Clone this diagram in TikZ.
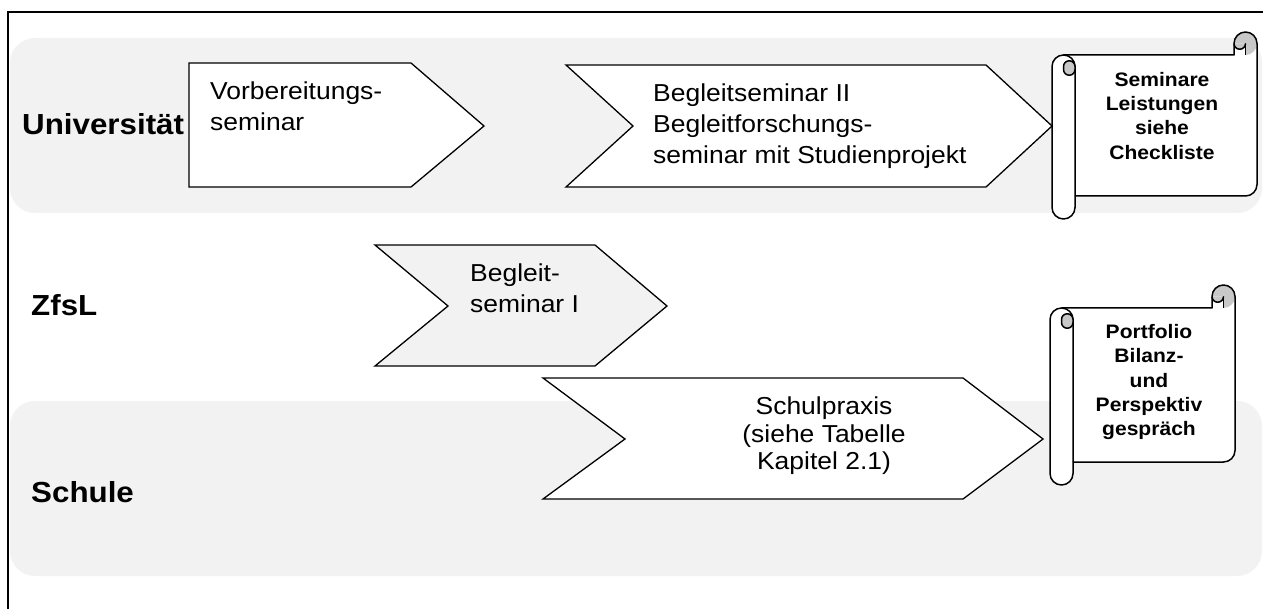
\documentclass[tikz,border=0pt]{standalone}
\usepackage{fontspec}
\newfontfamily\arial[FakeStretch=1.08]{Liberation Sans}
\definecolor{bandgray}{RGB}{242,242,242}
\definecolor{curlgray}{RGB}{200,200,200}
\tikzset{
  laneband/.style={fill=bandgray, draw=none, rounded corners=25pt},
  chevron/.style={draw=black, line width=1.3pt, line join=miter},
  scrl/.style={draw=black, line width=1.5pt, line join=round},
  regtext/.style={font=\arial\fontsize{24.5}{31}\selectfont, inner sep=0pt, anchor=north west, align=left},
  lanelabel/.style={font=\arial\bfseries\fontsize{29}{34}\selectfont, inner sep=0pt, anchor=base west},
  scrolltext/.style={font=\arial\bfseries\fontsize{19.5}{24.4}\selectfont, inner sep=0pt, anchor=north, align=center},
}
\newcommand\sheetpath[4]{%
  (#1,\cyL) arc[start angle=180, end angle=270, radius=\sr] -- (\xn,\ys) -- (\xn,\cyT)
  arc[start angle=180, end angle=360, radius=\sr] -- (#3,\yb-\sr)
  arc[start angle=0, end angle=90, radius=\sr] -- (\xl,\yb) -- (\xl,#4-\sr)
  arc[start angle=0, end angle=180, radius=\sr] -- cycle}
\newcommand\myscroll[4]{%
  \pgfmathsetmacro\sr{11.5}%
  \pgfmathsetmacro\ys{#2+2*\sr}%
  \pgfmathsetmacro\yb{#4-2*\sr}%
  \pgfmathsetmacro\xl{#1+2*\sr}%
  \pgfmathsetmacro\cxT{#3-\sr}%
  \pgfmathsetmacro\cyT{#2+\sr}%
  \pgfmathsetmacro\cxL{#1+\sr}%
  \pgfmathsetmacro\cyL{\ys+\sr}%
  \pgfmathsetmacro\xn{#3-2*\sr}%
  \pgfmathsetmacro\hr{\sr/2}%
  \fill[white] \sheetpath{#1}{#2}{#3}{#4};
  % top roll
  \fill[curlgray] (\xn,\cyT) arc[start angle=180, end angle=360, radius=\sr]
     arc[start angle=0, end angle=90, radius=\sr] -- (\cxT,\cyT) -- cycle;
  \draw[scrl] (\cxT,\cyT) -- (\cxT,\ys);
  \draw[scrl, fill=curlgray] (\xn,\cyT) arc[start angle=180, end angle=0, radius=\hr];
  % left roll
  \draw[scrl] (\cxL,\ys) arc[start angle=270, end angle=360, radius=\sr] -- (\xl,\yb);
  \draw[scrl, fill=curlgray] (\xl,\cyL) arc[start angle=0, end angle=-180, radius=\hr]
     -- (\cxL,\cyL+3) arc[start angle=180, end angle=0, radius=\hr] -- cycle;
  \draw[scrl] \sheetpath{#1}{#2}{#3}{#4};
}
\begin{document}
\begin{tikzpicture}[x=1pt, y=-1pt]
\useasboundingbox (0,0) rectangle (1263,609);
\clip (0,0) rectangle (1263,609);
\fill[white] (0,0) rectangle (1263,609);
% lane bands
\fill[laneband] (10,38) rectangle (1262,213);
\fill[laneband] (10,401) rectangle (1262,576);
% outer frame
\draw[line width=1.6pt] (8,640) -- (8,12) -- (1290,12);
% chevrons
\draw[chevron, fill=white] (189,63) -- (411,63) -- (484,126) -- (411,187) -- (189,187) -- cycle;
\draw[chevron, fill=white] (566,65) -- (986,65) -- (1052,126) -- (986,187) -- (566,187) -- (633,126) -- cycle;
\draw[chevron, fill=bandgray] (375,245) -- (595,245) -- (667,306) -- (595,366) -- (375,366) -- (448,306) -- cycle;
\draw[chevron, fill=white] (543,378) -- (963,378) -- (1043,439) -- (963,499) -- (543,499) -- (625,439) -- cycle;
% scrolls
\myscroll{1052}{32}{1257}{219}
\myscroll{1050}{285}{1235}{485}
% lane labels
\node[lanelabel] (uni) at (22,135) {Universität};
\node[lanelabel] (zfsl) at (31,316) {ZfsL};
\node[lanelabel] (schule) at (31,502) {Schule};
% texts
\node[regtext] (vor) at (210,75) {\rule{0pt}{24pt}Vorbereitungs-\\seminar};
\node[regtext] (bs2) at (653,77) {\rule{0pt}{24pt}Begleitseminar II\\Begleitforschungs-\\seminar mit Studienprojekt};
\node[regtext] (bs1) at (470,257) {\rule{0pt}{24pt}Begleit-\\seminar I};
\node[regtext, anchor=north, align=center, font=\arial\fontsize{24.5}{27.3}\selectfont] (sp) at (824,390.5) {\rule{0pt}{24pt}Schulpraxis\\(siehe Tabelle\\Kapitel 2.1)};
\node[scrolltext] (s1) at (1162,66) {\rule{0pt}{20pt}Seminare\\Leistungen\\siehe\\Checkliste};
\node[scrolltext] (s2) at (1149,318) {\rule{0pt}{20pt}Portfolio\\Bilanz-\\und\\Perspektiv\\gespräch};
\end{tikzpicture}
\end{document}
